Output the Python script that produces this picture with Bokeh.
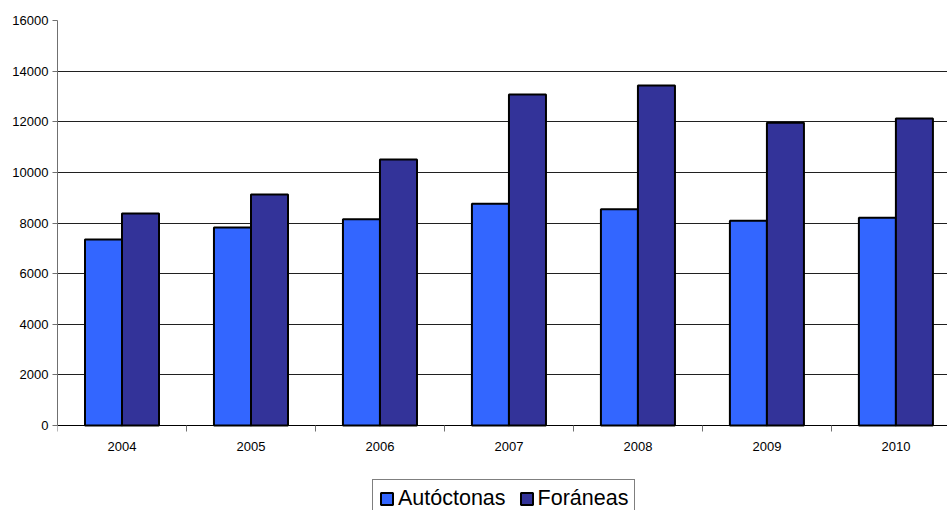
from bokeh.plotting import figure
from bokeh.models import (ColumnDataSource, Range1d, FixedTicker, Legend, LegendItem)
from bokeh.transform import dodge
from bokeh.embed import file_html
from bokeh.resources import INLINE

# Data
years = ["2004", "2005", "2006", "2007", "2008", "2009", "2010"]
autoctonas = [7350, 7820, 8150, 8760, 8540, 8090, 8210]
foraneas = [8380, 9130, 10510, 13080, 13430, 11960, 12130]

centers = [i + 0.5 for i in range(len(years))]
src = ColumnDataSource(dict(x=centers, aut=autoctonas, fora=foraneas))

BAR_W = 0.287
FONT = "Liberation Sans"
Y_MAX = 16000
# room below zero for the category labels and the legend
Y_MIN = -Y_MAX * 85 / 405

p = figure(frame_width=890, frame_height=490, output_backend="svg", toolbar_location=None,
           x_range=Range1d(0, 6.9), y_range=Range1d(Y_MIN, Y_MAX),
           min_border_left=57, min_border_right=0, min_border_top=20,
           min_border_bottom=0)
p.outline_line_color = None
p.background_fill_color = "white"
p.border_fill_color = "white"

r1 = p.vbar(x=dodge("x", -BAR_W / 2), width=BAR_W, top="aut", bottom=0, source=src,
            fill_color="#3366FF", line_color="black", line_width=2)
r2 = p.vbar(x=dodge("x", BAR_W / 2), width=BAR_W, top="fora", bottom=0, source=src,
            fill_color="#333399", line_color="black", line_width=2)

# y axis
p.yaxis.bounds = (0, Y_MAX)
p.yaxis.ticker = FixedTicker(ticks=list(range(0, 16001, 2000)))
p.yaxis.major_label_text_font = FONT
p.yaxis.major_label_text_font_size = "13px"
p.yaxis.major_label_text_color = "black"
p.yaxis.axis_line_color = "#707070"
p.yaxis.major_tick_line_color = "#707070"
p.yaxis.major_tick_out = 5
p.yaxis.major_tick_in = 0
p.yaxis.minor_tick_line_color = None
p.yaxis.major_label_standoff = 4

p.ygrid.ticker = FixedTicker(ticks=list(range(2000, 14001, 2000)))
p.ygrid.grid_line_color = "#202020"
p.ygrid.grid_line_width = 1
p.xgrid.grid_line_color = None

# x axis drawn along y = 0: labels at category centres, tick marks at boundaries
p.xaxis.fixed_location = 0
p.xaxis.ticker = FixedTicker(ticks=centers, minor_ticks=list(range(0, 8)))
p.xaxis.major_label_overrides = {c: y for c, y in zip(centers, years)}
p.xaxis.major_label_text_font = FONT
p.xaxis.major_label_text_font_size = "13px"
p.xaxis.major_label_text_color = "black"
p.xaxis.major_tick_line_color = None
p.xaxis.minor_tick_line_color = "#707070"
p.xaxis.minor_tick_out = 6
p.xaxis.minor_tick_in = 0
p.xaxis.axis_line_color = "black"
p.xaxis.major_label_standoff = 10

legend = Legend(items=[LegendItem(label="Autóctonas", renderers=[r1]),
                       LegendItem(label="Foráneas", renderers=[r2])],
                orientation="horizontal", location=(315, -8),
                label_text_font=FONT, label_text_font_size="21.5px",
                label_text_color="black", label_height=20,
                glyph_width=15, glyph_height=15, label_standoff=4,
                spacing=13, padding=6, margin=0,
                border_line_color="black", border_line_width=1,
                background_fill_color="white", background_fill_alpha=1)
p.add_layout(legend, "center")

open("out.html", "w").write(file_html(p, INLINE))
